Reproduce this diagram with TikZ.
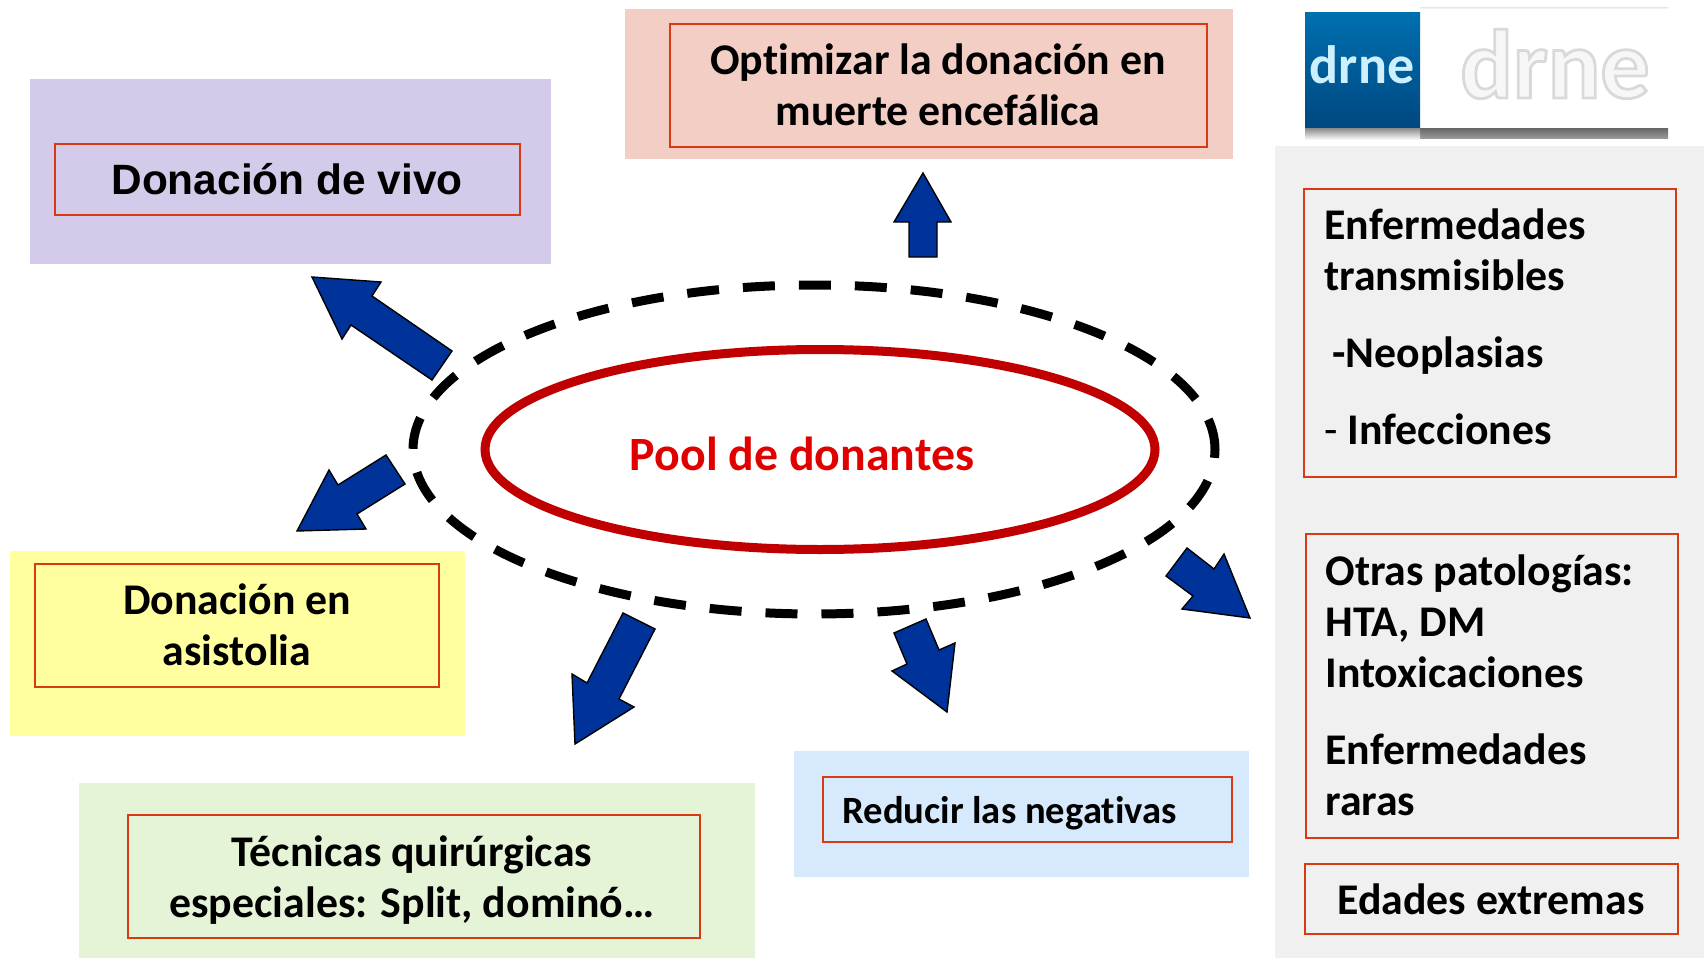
\documentclass[tikz,border=0pt]{standalone}
\usepackage{fontspec}
\usetikzlibrary{shapes.geometric,shadings}
\setmainfont{Carlito}[BoldFont=Carlito Bold,Ligatures=NoCommon]
\newfontfamily\arialf{Liberation Sans}
\newfontfamily\logof{Carlito Bold}
\definecolor{boxline}{HTML}{D83A12}
\definecolor{arrowblue}{HTML}{003399}
\definecolor{poolred}{HTML}{C00000}
\definecolor{pooltext}{HTML}{E00000}
\definecolor{ppurple}{HTML}{D3CBE9}
\definecolor{psalmon}{HTML}{F3CEC5}
\definecolor{pgray}{HTML}{F0F0F0}
\definecolor{pyellow}{HTML}{FFFFA0}
\definecolor{pgreen}{HTML}{E5F3D7}
\definecolor{pblue}{HTML}{D7E9FC}
\definecolor{logotop}{HTML}{0070B0}
\definecolor{logobot}{HTML}{004880}
\definecolor{logotext}{HTML}{CDF0FF}
\tikzset{
  x=0.5pt,y=-0.5pt,
  panel/.style={fill=#1,draw=none},
  framebox/.style={draw=boxline,line width=1pt,fill=none},
  bigarrow/.style={fill=arrowblue,draw=black,line width=0.7pt,line join=miter},
  lbl/.style={font=\fontsize{21.9}{25.5}\selectfont\bfseries,inner sep=0pt,text=black}
}
\begin{document}
\begin{tikzpicture}
\useasboundingbox (0,0) rectangle (1704,958);
% panels
\fill[panel=ppurple] (30,79) rectangle (551,264);
\fill[panel=psalmon] (625,9) rectangle (1233,159);
\fill[panel=pgray] (1275,146) rectangle (1704,958);
\fill[panel=pyellow] (10,551) rectangle (465,736);
\fill[panel=pgreen] (79,783) rectangle (755,958);
\fill[panel=pblue] (794,751) rectangle (1249,877);
% frames
\draw[framebox] (55,144) rectangle (520,215);
\draw[framebox] (670,24) rectangle (1207,147);
\draw[framebox] (1304,189) rectangle (1676,477);
\draw[framebox] (1306,534) rectangle (1678,838);
\draw[framebox] (1305,864) rectangle (1678,934);
\draw[framebox] (35,564) rectangle (439,687);
\draw[framebox] (128,815) rectangle (700,938);
\draw[framebox] (823,777) rectangle (1232,842);
% logo
\shade[top color=black!10!white,bottom color=white] (1420,7) rectangle (1668,9);
\shade[top color=black!60,bottom color=black!40] (1420,128) rectangle (1668,138);
\shade[top color=black!50,bottom color=white] (1305,127) rectangle (1420,140);
\shade[top color=logotop,bottom color=logobot] (1305,12) rectangle (1420,127);
\node[inner sep=0pt,text=logotext,font=\logof\fontsize{27}{27}\selectfont] (logoa) at (1362,65) {drne};
\node[inner sep=0pt,font=\logof\fontsize{49}{49}\selectfont] (logob) at (1555,64) {\special{pdf:code q 2 Tr 1.4 w 0.97 g 0.85 G}drne\special{pdf:code Q}};
% ellipses
\node[ellipse,draw=black,line width=4.5pt,dash pattern=on 16pt off 12pt,dash phase=0.5pt,minimum width=401pt,minimum height=164.5pt,inner sep=0pt] (outer) at (814,449.5) {};
\node[ellipse,draw=poolred,line width=4.5pt,minimum width=335pt,minimum height=100pt,inner sep=0pt] (inner) at (820,449.5) {};
\node[inner sep=0pt,text=pooltext,font=\fontsize{23.9}{26}\selectfont\bfseries] (pool) at (802,454) {Pool de donantes};
% arrows
\draw[bigarrow] (923,173) -- (951,222) -- (937,222) -- (937,257) -- (909,257) -- (909,222) -- (894,222) -- cycle;
\draw[bigarrow] (312,277) -- (381,282) -- (372,296) -- (452,351) -- (432,380) -- (351,325) -- (342,339) -- cycle;
\draw[bigarrow] (297,531) -- (366,529) -- (357,514) -- (405,484) -- (386,455) -- (338,485) -- (329,470) -- cycle;
\draw[bigarrow] (575,744) -- (634,707) -- (619,699) -- (655,629) -- (623,613) -- (587,683) -- (572,674) -- cycle;
\draw[bigarrow] (947,712) -- (955,643) -- (939,650) -- (926,619) -- (894,633) -- (907,664) -- (892,671) -- cycle;
\draw[bigarrow] (1250,618) -- (1224,554) -- (1214,569) -- (1187,548) -- (1166,576) -- (1193,596) -- (1182,609) -- cycle;
% labels
\node[inner sep=0pt,font=\arialf\fontsize{21.2}{25}\selectfont\bfseries,text=black] (vivo) at (287,179) {Donación de vivo};
\node[lbl,align=center] (optim) at (938,85) {Optimizar la donación en\\muerte encefálica};
\node[lbl,align=center] (asist) at (237,625) {Donación en\\asistolia};
\node[lbl,align=center] (tecn) at (412,880) {Técnicas quirúrgicas\\especiales: Split, dominó…};
\node[lbl,anchor=west,font=\fontsize{19.3}{22}\selectfont\bfseries] (neg) at (842,813) {Reducir las negativas};
\node[lbl,align=left,anchor=west] (trans) at (1324,327) {Enfermedades\\transmisibles\\[13pt]\hspace{4pt}-Neoplasias\\[13pt]{\mdseries-} Infecciones};
\node[lbl,align=left,anchor=west] (otras) at (1325,685) {Otras patologías:\\HTA, DM\\Intoxicaciones\\[13pt]Enfermedades\\raras};
\node[lbl] (edad) at (1491,899) {Edades extremas};
\end{tikzpicture}
\end{document}
